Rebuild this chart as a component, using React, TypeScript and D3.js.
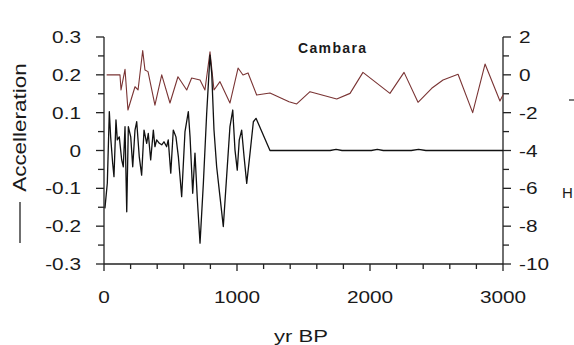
import React from "react";
import * as d3 from "d3";

const accelYears = [7, 25, 40, 50, 65, 75, 90, 100, 115, 133, 145, 158, 171, 183, 201, 216, 233, 246, 265, 283, 301, 321, 333, 351, 371, 383, 396, 416, 434, 451, 471, 483, 502, 521, 541, 559, 584, 609, 634, 647, 667, 684, 702, 722, 747, 772, 797, 810, 827, 847, 872, 897, 922, 947, 968, 985, 1002, 1017, 1035, 1053, 1073, 1098, 1123, 1143, 1248, 1700, 1745, 1790, 2010, 2055, 2100, 2310, 2365, 2420, 3000];
const accelValues = [-0.153, -0.086, 0.103, 0.036, -0.033, -0.069, 0.081, 0.028, 0.036, -0.025, -0.043, 0.063, -0.162, 0.063, 0.036, -0.043, 0.054, 0.076, -0.016, -0.065, 0.054, 0.019, 0.045, -0.025, 0.054, 0.01, 0.028, 0.019, 0.015, 0.023, 0.01, 0.028, -0.06, 0.054, 0.036, -0.016, -0.122, 0.05, 0.103, 0.036, -0.113, -0.007, -0.131, -0.245, -0.087, 0.098, 0.252, 0.204, 0.054, -0.043, -0.122, -0.201, -0.069, 0.063, 0.107, 0.001, -0.052, 0.028, 0.054, -0.016, -0.087, -0.007, 0.076, 0.085, 0, 0, 0.003, 0, 0, 0.003, 0, 0, 0.003, 0, 0];

const rightYears = [20, 120, 128, 158, 180, 233, 256, 291, 308, 331, 383, 434, 496, 556, 622, 659, 722, 759, 797, 827, 872, 947, 1008, 1045, 1083, 1148, 1248, 1391, 1449, 1549, 1750, 1850, 1947, 2150, 2256, 2361, 2464, 2549, 2662, 2772, 2865, 2977, 3000];
const rightValues = [0, 0, -0.8, 0.29, -1.86, -0.63, -0.8, 1.28, 0.26, 0.17, -1.6, 0, -1.49, -0.1, -0.8, -0.17, -0.27, -0.8, 1.22, -0.8, -0.36, -1.49, 0.36, -0.01, 0.1, -1.07, -0.96, -1.42, -1.54, -0.89, -1.28, -0.98, 0.13, -0.98, 0.13, -1.45, -0.71, -0.27, 0.03, -2.0, 0.57, -1.38, -1.07];

const xTickLabels = [0, 1000, 2000, 3000];
const leftTickLabels = [0.3, 0.2, 0.1, 0, -0.1, -0.2, -0.3];
const rightTickLabels = [2, 0, -2, -4, -6, -8, -10];

const title = "Cambara";
const xLabel = "yr BP";
const leftLabel = "Accelleration";

export default function App() {
  const x = d3.scaleLinear().domain([0, 3000]).range([104, 503]);
  const yL = d3.scaleLinear().domain([-0.3, 0.3]).range([264, 37]);
  const yR = d3.scaleLinear().domain([-10, 2]).range([264, 37]);

  const accelData = accelYears.map((yr, i) => [yr, accelValues[i]] as [number, number]);
  const rightData = rightYears.map((yr, i) => [yr, rightValues[i]] as [number, number]);

  const lineL = d3.line<[number, number]>().x((d) => x(d[0])).y((d) => yL(d[1]));
  const lineR = d3.line<[number, number]>().x((d) => x(d[0])).y((d) => yR(d[1]));

  const xMinor = d3.range(0, 3001, 200);
  const yLMinor = d3.range(-0.3, 0.3001, 0.05);
  const yRMinor = d3.range(-10, 2.001, 1);

  const font = "'Liberation Sans', Arial, sans-serif";
  const fs = 16;
  const sx = 1.3;

  return (
    <svg width={574} height={345} style={{ position: "absolute", left: 0, top: 0, background: "#fff" }} fontFamily={font}>
      <rect x={0} y={0} width={574} height={345} fill="#fff" />
      <g stroke="#222" strokeWidth={1.3} fill="none">
        <line x1={x(0)} x2={x(0)} y1={yL(0.3)} y2={yL(-0.3)} />
        <line x1={x(0)} x2={x(3000)} y1={yL(-0.3)} y2={yL(-0.3)} />
        <line x1={x(3000)} x2={x(3000)} y1={yR(2)} y2={yR(-10)} />
        {xMinor.map((t) => (
          <line key={"xt" + t} x1={x(t)} x2={x(t)} y1={264} y2={t % 1000 === 0 ? 271 : 269} />
        ))}
        {yLMinor.map((t, i) => (
          <line key={"yl" + i} x1={i % 2 === 0 ? 96 : 98} x2={x(0)} y1={yL(t)} y2={yL(t)} />
        ))}
        {yRMinor.map((t, i) => (
          <line key={"yr" + i} x1={x(3000)} x2={i % 2 === 0 ? 511 : 509} y1={yR(t)} y2={yR(t)} />
        ))}
      </g>
      <path d={lineR(rightData) || ""} fill="none" stroke="#7a3434" strokeWidth={1.1} strokeLinejoin="round" />
      <path d={lineL(accelData) || ""} fill="none" stroke="#111" strokeWidth={1.3} strokeLinejoin="round" />
      <g fontSize={fs} fill="#1a1a1a">
        {xTickLabels.map((t) => (
          <text key={"xl" + t} textAnchor="middle" transform={`translate(${x(t)},303) scale(${sx},1)`}>
            {t}
          </text>
        ))}
        {leftTickLabels.map((t) => (
          <text key={"ll" + t} textAnchor="end" transform={`translate(81,${yL(t) + 6}) scale(${sx},1)`}>
            {t}
          </text>
        ))}
        {rightTickLabels.map((t) => (
          <text key={"rl" + t} textAnchor="start" transform={`translate(519,${yR(t) + 6}) scale(${sx},1)`}>
            {t}
          </text>
        ))}
      </g>
      <text x={298} y={53} fontSize={14} fontWeight={600} fill="#1a1a1a" textLength={68} lengthAdjust="spacing">
        {title}
      </text>
      <text textAnchor="middle" fontSize={17} fill="#1a1a1a" transform={`translate(301,342) scale(1.3,1)`}>
        {xLabel}
      </text>
      <text textAnchor="middle" fontSize={18} fill="#1a1a1a" transform={`translate(26,127.5) rotate(-90) scale(1.25,1)`}>
        {leftLabel}
      </text>
      <line x1={20} x2={20} y1={202} y2={243} stroke="#222" strokeWidth={1.3} />
      <line x1={569} x2={574} y1={100} y2={100} stroke="#333" strokeWidth={1.3} />
      <text x={562} y={198} fontSize={15} fill="#1a1a1a">H</text>
    </svg>
  );
}
